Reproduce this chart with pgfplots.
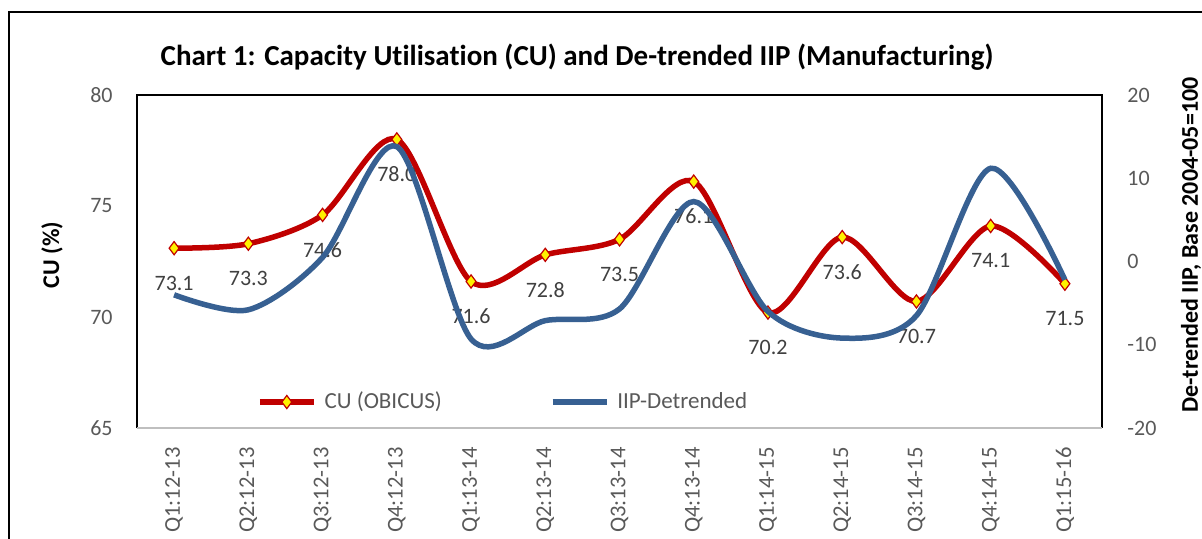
\documentclass[border=0pt]{standalone}
\usepackage{pgfplots}
\pgfplotsset{compat=1.18}
\usepackage{pgfplotstable}
\usepackage{fontspec}
\setmainfont{Carlito}[Ligatures={NoCommon}]
\definecolor{cured}{HTML}{C00000}
\definecolor{iipblue}{HTML}{376092}
\definecolor{ticktext}{HTML}{595959}
\definecolor{labeltext}{HTML}{404040}

\pgfplotstableread{
x cu
0 73.1
1 73.3
2 74.6
3 78.0
4 71.6
5 72.8
6 73.5
7 76.1
8 70.2
9 73.6
10 70.7
11 74.1
12 71.5
}\cutable

\pgfplotstableread{
x iip
0 -4.0
1 -5.8
2 0.5
3 13.8
4 -9.3
5 -7.1
6 -5.7
7 7.2
8 -6.0
9 -9.2
10 -6.5
11 11.2
12 -2.2
}\iiptable

\begin{document}
\begin{tikzpicture}[x=1pt,y=1pt]
\useasboundingbox (0,0) rectangle (601,269);
\begin{scope}
\clip (0,0) rectangle (601,269);
\draw[line width=1pt, black] (4.5,-10) -- (4.5,263) -- (620,263);

\begin{axis}[
  at={(68.5pt,55pt)}, anchor=south west,
  scale only axis, width=482.5pt, height=166.5pt,
  xmin=-0.5, xmax=12.5, ymin=65, ymax=80,
  ytick={65,70,75,80},
  xtick={0,1,...,12},
  xticklabels={Q1:12-13,Q2:12-13,Q3:12-13,Q4:12-13,Q1:13-14,Q2:13-14,Q3:13-14,Q4:13-14,Q1:14-15,Q2:14-15,Q3:14-15,Q4:14-15,Q1:15-16},
  axis line style={draw=none},
  major tick length=0pt,
  tick label style={font=\fontsize{11}{13}\selectfont, color=ticktext},
  /pgf/number format/assume math mode=true,
  xticklabel style={rotate=90, anchor=east, inner sep=0pt, font=\fontsize{11.3}{13}\selectfont},
  xticklabel shift=9.5pt,
  yticklabel style={anchor=east, inner sep=0pt},
  yticklabel shift=12pt,
  clip=false,
]
\draw[line width=0.9pt, black] (rel axis cs:0,0) -- (rel axis cs:0,1) -- (rel axis cs:1,1) -- (rel axis cs:1,0);
\draw[line width=0.9pt, color=black!25] (rel axis cs:0,0) -- (rel axis cs:1,0);
\addplot[cured, line width=2.75pt, smooth, mark=diamond*, mark size=3.3pt,
  mark options={fill=yellow, draw=cured, line width=0.6pt},
  point meta=y,
  nodes near coords={\pgfmathprintnumber[fixed,fixed zerofill,precision=1,assume math mode=true]{\pgfplotspointmeta}},
  every node near coord/.style={font=\fontsize{11}{13}\selectfont, color=labeltext, anchor=center, yshift=-17.5pt}]
  table[x=x, y=cu] {\cutable};
\end{axis}

\begin{axis}[
  at={(68.5pt,55pt)}, anchor=south west,
  scale only axis, width=482.5pt, height=166.5pt,
  xmin=-0.5, xmax=12.5, ymin=-20, ymax=20,
  ytick={-20,-10,0,10,20},
  hide x axis,
  axis y line*=right,
  axis line style={draw=none},
  major tick length=0pt,
  tick label style={font=\fontsize{11}{13}\selectfont, color=ticktext},
  /pgf/number format/assume math mode=true,
  yticklabel style={anchor=west, inner sep=0pt},
  yticklabel shift=12.5pt,
  clip=false,
  legend columns=2,
  legend style={at={(0.124,0.078)}, anchor=west, draw=none, fill=none,
    font=\fontsize{11.5}{13}\selectfont, text=ticktext,
    inner xsep=0pt, inner ysep=0pt,
    /tikz/every odd column/.append style={column sep=2pt},
    /tikz/every even column/.append style={column sep=52pt}},
  legend image code/.code={\draw[#1, mark repeat=2, mark phase=2] plot coordinates {(0pt,0pt) (13.5pt,0pt) (27pt,0pt)};},
]
\addlegendimage{cured, line width=2.75pt, mark=diamond*, mark size=3.3pt, mark options={fill=yellow, draw=cured, line width=0.6pt}}
\addlegendentry{CU (OBICUS)}
\addplot[iipblue, line width=2.75pt, smooth, no marks] table[x=x, y=iip] {\iiptable};
\addlegendentry{IIP-Detrended}
\end{axis}

\node[font=\bfseries\fontsize{14.5}{17}\selectfont, black] at (288.5,240.5) {Chart 1: Capacity Ut\kern0pt ilisat\kern0pt ion (CU) and De-trended IIP (Manufacturing)};
\node[font=\bfseries\fontsize{12}{14}\selectfont, black, rotate=90] at (26,141.5) {CU (\%)};
\node[font=\bfseries\fontsize{12}{14}\selectfont, black, rotate=90] at (595.5,146.5) {De-trended IIP, Base 2004-05=100};
\end{scope}
\end{tikzpicture}
\end{document}
